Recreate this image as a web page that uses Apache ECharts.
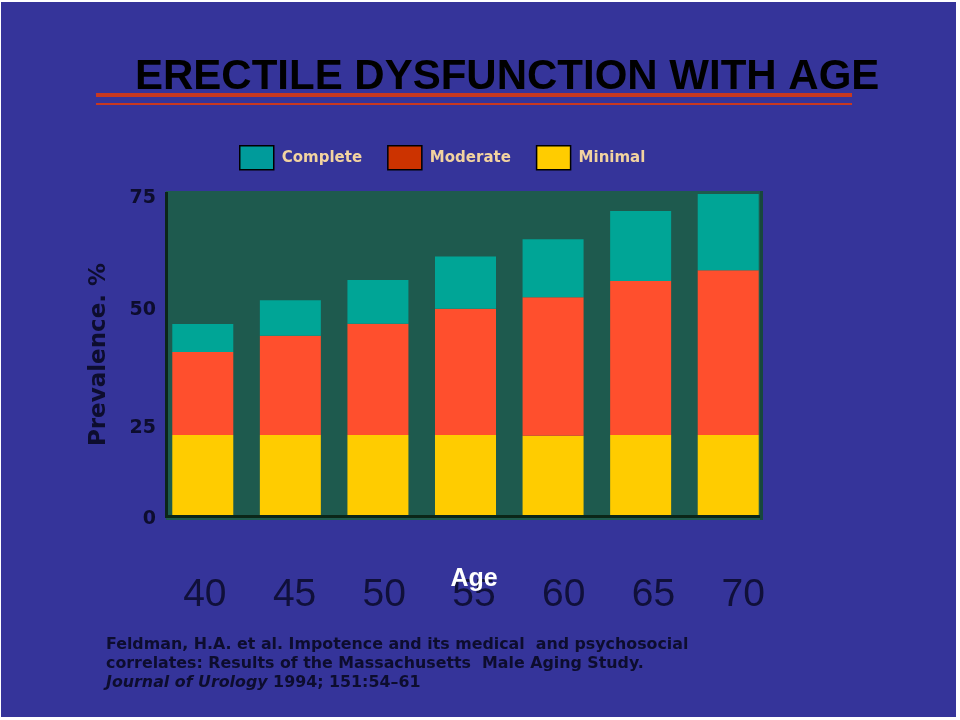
<!DOCTYPE html>
<html>
<head>
<meta charset="utf-8">
<script src="https://cdn.jsdelivr.net/npm/echarts@6/dist/echarts.min.js"></script>
<style>
html,body{margin:0;padding:0;background:#ffffff;}
#bg{position:absolute;left:1px;top:2px;width:955px;height:715px;background:#35349a;}
#chart{position:absolute;left:0;top:0;width:960px;height:720px;}
</style>
</head>
<body>
<div id="bg"></div>
<div id="chart"></div>
<script>
const ages = ['40','45','50','55','60','65','70'];
const minimal  = [18.7, 18.7, 18.7, 18.7, 18.5, 18.7, 18.7];
const moderate = [19.4, 23.2, 26.0, 29.5, 32.4, 36.0, 38.5];
const complete = [6.5, 8.3, 10.2, 12.2, 13.5, 16.3, 17.8];
const yTicks = [0, 25, 50, 75];

const chart = echarts.init(document.getElementById('chart'));
const yLabelShift = {0: 'a', 25: 'c', 50: 'b', 75: 'a'};
const labelFont = {fontFamily: '"DejaVu Sans", sans-serif', fontWeight: 'bold', fontSize: 19, color: '#0d0d2e'};
const option = {
  backgroundColor: 'transparent',
  animation: false,
  legend: {
    left: 239, top: 145, padding: 0,
    itemWidth: 34, itemHeight: 24, itemGap: 25,
    icon: 'rect',
    selectedMode: false,
    textStyle: {fontFamily: '"DejaVu Sans", sans-serif', fontWeight: 'bold', fontSize: 15, color: '#f2d3a0', padding: [0, 0, 0, 3]},
    data: [
      {name: 'Complete', itemStyle: {color: '#009b9b', borderColor: '#000', borderWidth: 1.5}},
      {name: 'Moderate', itemStyle: {color: '#cc3300', borderColor: '#000', borderWidth: 1.5}},
      {name: 'Minimal', itemStyle: {color: '#ffcc00', borderColor: '#000', borderWidth: 1.5}}
    ]
  },
  grid: [
    {left: 159, right: 188, top: 194, bottom: 205},
    {left: 160, right: 172, top: 194, bottom: 205}
  ],
  xAxis: [
    {
      type: 'category', gridIndex: 0,
      data: ages,
      axisLine: {show: false},
      axisTick: {show: false},
      axisLabel: {show: false}
    },
    {
      type: 'category', gridIndex: 1,
      data: ages,
      axisLine: {show: false},
      axisTick: {show: false},
      axisLabel: {margin: 61, fontFamily: '"Liberation Sans", Arial, sans-serif', fontSize: 39, color: '#10103a'}
    }
  ],
  yAxis: [
    {
      type: 'value', gridIndex: 0,
      min: 0, max: 75, interval: 25,
      axisLine: {show: false},
      axisTick: {show: false},
      splitLine: {show: false},
      axisLabel: {
        margin: 3,
        formatter: v => yTicks.includes(v) ? '{' + yLabelShift[v] + '|' + v + '}' : '',
        rich: {
          a: Object.assign({padding: [8, 0, 0, 0]}, labelFont),
          b: Object.assign({padding: [18, 0, 0, 0]}, labelFont),
          c: Object.assign({padding: [40, 0, 0, 0]}, labelFont)
        }
      },
      name: 'Prevalence. %',
      nameLocation: 'middle',
      nameGap: 48,
      nameTextStyle: {fontFamily: '"DejaVu Sans", sans-serif', fontWeight: 'bold', fontSize: 23, color: '#0d0d2e', padding: [0, 0, 0, 0]}
    },
    {
      type: 'value', gridIndex: 1, min: 0, max: 75, show: false
    }
  ],
  graphic: [
    {type: 'rect', z: -10, shape: {x: 166, y: 191, width: 597, height: 329}, style: {fill: '#1e5a4e'}},
    {type: 'rect', z: -9, shape: {x: 760, y: 191, width: 3, height: 329}, style: {fill: '#17473d'}},
    {type: 'rect', z: -5, shape: {x: 165, y: 192, width: 3, height: 326}, style: {fill: '#0b2618'}},
    {type: 'rect', z: -5, shape: {x: 165, y: 515, width: 595, height: 3}, style: {fill: '#0b2618'}},
    {type: 'rect', shape: {x: 96, y: 93, width: 756, height: 4}, style: {fill: '#c8381f'}},
    {type: 'rect', shape: {x: 96, y: 103, width: 756, height: 2}, style: {fill: '#c8381f'}},
    {type: 'text', x: 135, y: 56,
      style: {text: 'ERECTILE DYSFUNCTION WITH AGE', fontFamily: '"Liberation Sans", Arial, sans-serif', fontWeight: 'bold', fontSize: 42, fill: '#000000', verticalAlign: 'top'}},
    {type: 'text', x: 474, y: 579, z: 100,
      style: {text: 'Age', fontFamily: '"Liberation Sans", Arial, sans-serif', fontWeight: 'bold', fontSize: 25, fill: '#ffffff', align: 'center', verticalAlign: 'middle'}},
    {type: 'text', x: 106, y: 636, scaleX: 1.056, scaleY: 1,
      style: {
        text: 'Feldman, H.A. et al. Impotence and its medical  and psychosocial\ncorrelates: Results of the Massachusetts  Male Aging Study.\n{i|Journal of Urology} 1994; 151:54\u201361',
        fontFamily: '"DejaVu Sans", sans-serif', fontWeight: 'bold', fontSize: 15, lineHeight: 19, fill: '#0d0d2e', verticalAlign: 'top',
        rich: {i: {fontFamily: '"DejaVu Sans", sans-serif', fontStyle: 'italic', fontWeight: 'bold', fontSize: 15, lineHeight: 19, color: '#0d0d2e'}}
      }}
  ],
  series: [
    {name: 'Minimal', type: 'bar', stack: 'p', data: minimal, barWidth: 61, itemStyle: {color: '#ffcc00'}},
    {name: 'Moderate', type: 'bar', stack: 'p', data: moderate, barWidth: 61, itemStyle: {color: '#ff4f2d'}},
    {name: 'Complete', type: 'bar', stack: 'p', data: complete, barWidth: 61, itemStyle: {color: '#00a596'}}
  ]
};
chart.setOption(option);
</script>
</body>
</html>
